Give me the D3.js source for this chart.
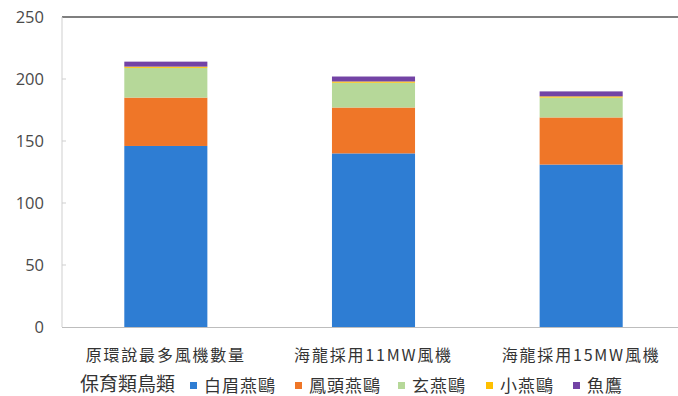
<!DOCTYPE html>
<html><head><meta charset="utf-8">
<script src="https://cdn.jsdelivr.net/npm/d3@7"></script>
<style>
html,body{margin:0;padding:0;background:#fff;}
svg{display:block;}
text{font-family:"Noto Sans CJK TC","Noto Sans",sans-serif;}
</style></head>
<body>
<svg id="chart" width="678" height="396"></svg>
<script>
const categories = ["原環說最多風機數量", "海龍採用11MW風機", "海龍採用15MW風機"];
const seriesNames = ["白眉燕鷗", "鳳頭燕鷗", "玄燕鷗", "小燕鷗", "魚鷹"];
const whiteTern = [146, 140, 131];
const crestedTern = [39, 37, 38];
const noddy = [24, 20, 16];
const littleTern = [1, 1, 1];
const osprey = [4, 4, 4];
const yTicks = [0, 50, 100, 150, 200, 250];
const legendTitle = "保育類鳥類";
const colors = ["#2e7dd3", "#ef7628", "#b6d899", "#ffc000", "#7343a5"];

const seriesValues = [whiteTern, crestedTern, noddy, littleTern, osprey];
const table = categories.map((c, i) => {
  const row = {cat: c};
  seriesNames.forEach((s, j) => row[s] = seriesValues[j][i]);
  return row;
});

const svg = d3.select("#chart");
const pLeft = 62, pRight = 685, pTop = 17, pBottom = 327;

const x = d3.scaleBand().domain(categories).range([pLeft, pRight]).paddingInner(0.6).paddingOuter(0.3);
const y = d3.scaleLinear().domain([0, 250]).range([pBottom, pTop]);

// axes lines
svg.append("line").attr("x1", pLeft).attr("x2", 678).attr("y1", pTop).attr("y2", pTop)
  .attr("stroke", "#555").attr("stroke-width", 1.6);
svg.append("line").attr("x1", pLeft).attr("x2", pLeft).attr("y1", pTop).attr("y2", pBottom)
  .attr("stroke", "#cfcfcf").attr("stroke-width", 1);
svg.append("line").attr("x1", pLeft).attr("x2", 678).attr("y1", pBottom + 0.5).attr("y2", pBottom + 0.5)
  .attr("stroke", "#bdbdbd").attr("stroke-width", 1);

// y tick marks & labels
const yAxis = svg.append("g");
yAxis.selectAll("line.tk").data(yTicks.filter(t => t > 0 && t < 250)).enter().append("line")
  .attr("x1", pLeft).attr("x2", pLeft + 4).attr("y1", d => y(d)).attr("y2", d => y(d))
  .attr("stroke", "#cfcfcf");
yAxis.selectAll("text").data(yTicks).enter().append("text")
  .attr("x", 44).attr("y", d => y(d)).attr("dy", "0.35em")
  .attr("text-anchor", "end").attr("font-size", 16.5).attr("fill", "#4a4a4a")
  .style("font-family", "'Open Sans','Noto Sans',sans-serif")
  .text(d => d);

// stacked bars
const stack = d3.stack().keys(seriesNames);
const stacked = stack(table);
svg.append("g").selectAll("g").data(stacked).enter().append("g")
  .attr("fill", (d, i) => colors[i])
  .selectAll("rect").data(d => d).enter().append("rect")
  .attr("x", d => x(d.data.cat))
  .attr("width", x.bandwidth())
  .attr("y", d => y(d[1]))
  .attr("height", d => Math.max(0, y(d[0]) - y(d[1])));

// x labels
svg.append("g").selectAll("text").data(categories).enter().append("text")
  .attr("x", d => x(d) + x.bandwidth() / 2).attr("y", 355).attr("dy", "0.35em")
  .attr("text-anchor", "middle").attr("font-size", 16).attr("fill", "#333")
  .attr("letter-spacing", 1.8)
  .text(d => d);

// legend
svg.append("text").attr("x", 80).attr("y", 384).attr("dy", "0.35em")
  .attr("font-size", 19).attr("fill", "#333").text(legendTitle);
const legX = [190, 295, 398, 486, 573];
const lg = svg.append("g").selectAll("g").data(seriesNames).enter().append("g")
  .attr("transform", (d, i) => `translate(${legX[i]},386)`);
lg.append("rect").attr("x", 0).attr("y", -4).attr("width", 7).attr("height", 7)
  .attr("fill", (d, i) => colors[i]);
lg.append("text").attr("x", 14).attr("y", 0).attr("dy", "0.35em")
  .attr("font-size", 17).attr("fill", "#333").attr("letter-spacing", 1).text(d => d);
</script>
</body></html>
